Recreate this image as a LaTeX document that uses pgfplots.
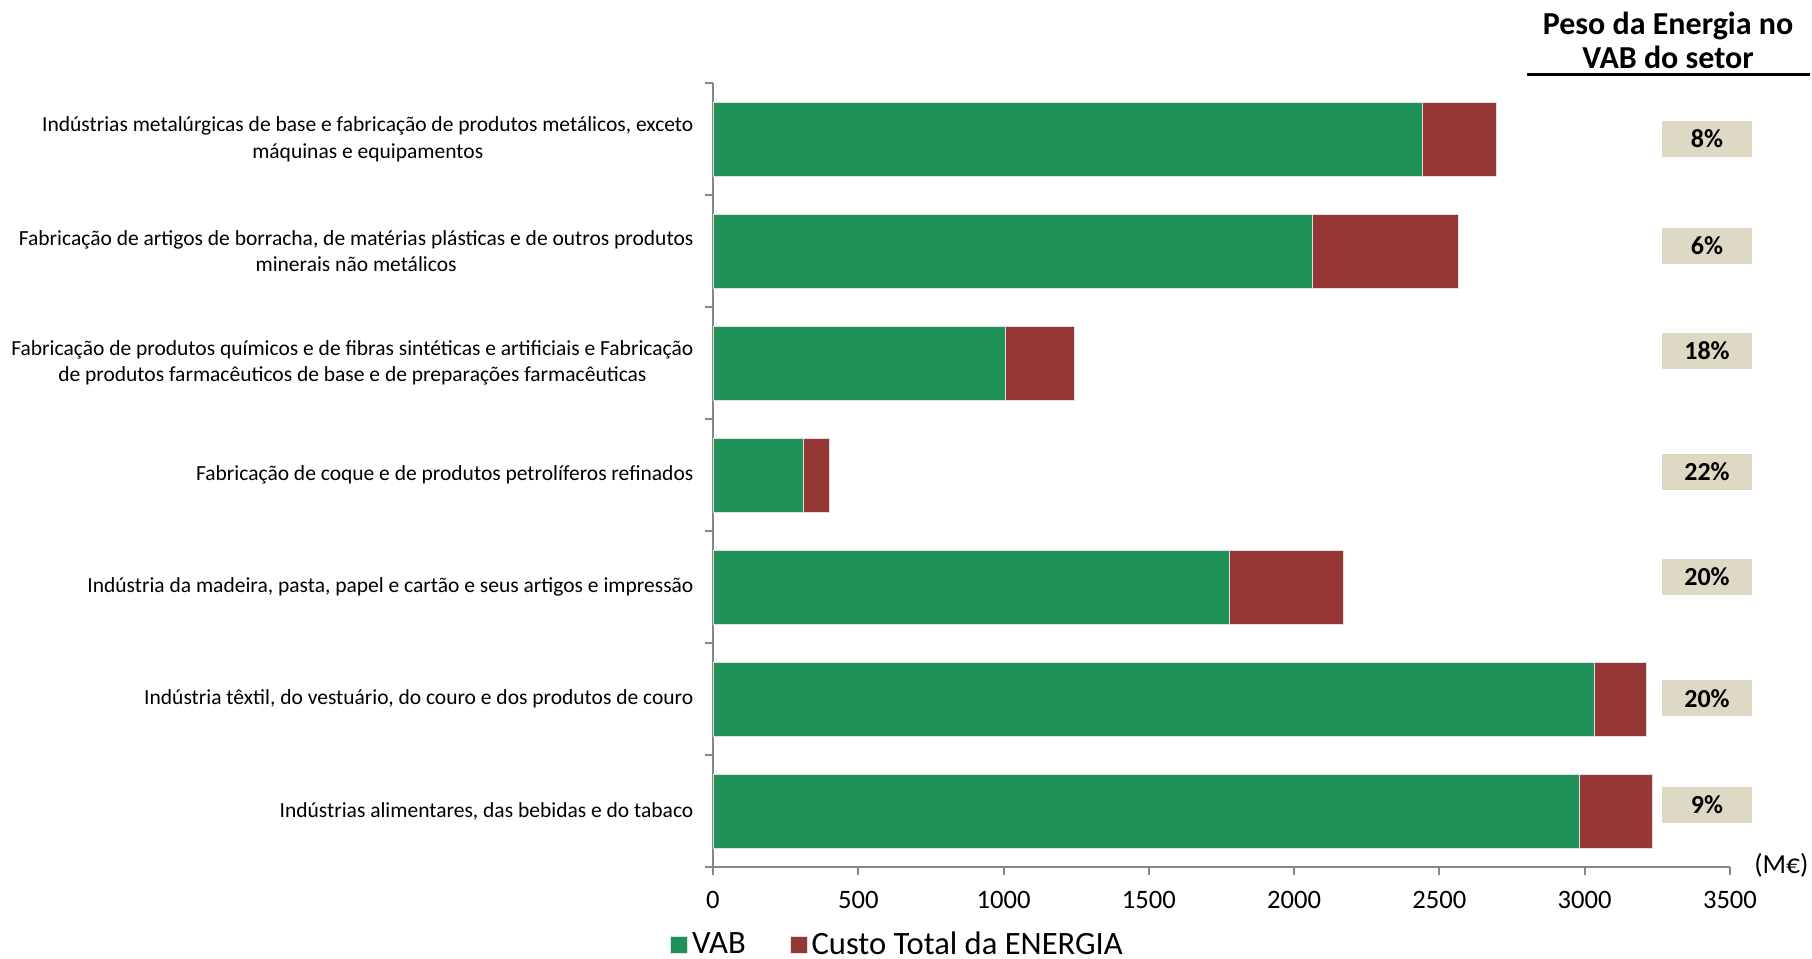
\documentclass[border=0pt]{standalone}
\usepackage{pgfplots}
\pgfplotsset{compat=1.18}
\usepackage{fontspec}
\setmainfont{Carlito}
\definecolor{vab}{RGB}{33,145,90}
\definecolor{ener}{RGB}{149,55,53}
\definecolor{pbox}{RGB}{221,217,196}
\definecolor{axgray}{RGB}{134,134,134}
\definecolor{barline}{RGB}{222,222,222}
\begin{document}
\begin{tikzpicture}
\useasboundingbox (-356.5pt,-46pt) rectangle (549.5pt,433.5pt);
\begin{axis}[
  at={(0pt,0pt)}, anchor=south west,
  scale only axis, width=508.5pt, height=392pt,
  xbar stacked, bar width=0.66,
  xmin=0, xmax=3500, ymin=-0.5, ymax=6.5,
  clip=false,
  axis lines=left,
  axis line style={-, axgray, line width=1pt},
  tick align=outside,
  major tick length=4pt, minor tick length=4pt,
  xtick={0,500,...,3500},
  x tick style={axgray, line width=1pt},
  ytick={0,...,6},
  major y tick style={draw=none},
  minor ytick={-0.5,0.5,...,6.5},
  minor y tick style={axgray, line width=1pt},
  /pgf/number format/assume math mode=true,
  /pgf/number format/1000 sep={},
  xticklabel style={font=\fontsize{13.3}{16}\selectfont, yshift=-4.6pt},
  yticklabel style={font=\fontsize{10.75}{13.3}\selectfont, align=center, xshift=-2.3pt},
  yticklabels={
    {Indústrias alimentares, das bebidas e do tabaco},
    {Indústria têxtil, do vestuário, do couro e dos produtos de couro},
    {Indústria da madeira, pasta, papel e cartão e seus artigos e impressão},
    {Fabricação de coque e de produtos petrolíferos refinados},
    {Fabricação de produtos químicos e de fibras sintéticas e artificiais e Fabricação\\de produtos farmacêuticos de base e de preparações farmacêuticas},
    {Fabricação de artigos de borracha, de matérias plásticas e de outros produtos\\minerais não metálicos},
    {Indústrias metalúrgicas de base e fabricação de produtos metálicos, exceto\\máquinas e equipamentos}
  },
  legend columns=2,
  legend style={draw=none, fill=none, at={(0,0)}, anchor=west,
    xshift=-21.5pt, yshift=-38.8pt, inner sep=0pt,
    font=\fontsize{16.3}{19}\selectfont,
    /tikz/every even column/.append style={column sep=20pt}},
  legend image code/.code={\fill[#1] (0pt,-4.25pt) rectangle (8.5pt,4.25pt);},
]
\addplot[fill=vab, draw=barline, line width=0.4pt] coordinates {
  (2981,0) (3035,1) (1778,2) (310,3) (1006,4) (2062,5) (2443,6)};
\addlegendentry{VAB}
\addplot[fill=ener, draw=barline, line width=0.4pt] coordinates {
  (252,0) (176,1) (390,2) (92,3) (239,4) (504,5) (252,6)};
\addlegendentry{Custo Total da ENERGIA}

\tikzset{pct/.style={fill=pbox, minimum width=45pt, minimum height=18pt, inner sep=0pt,
  font=\bfseries\fontsize{13}{15}\selectfont}}
\node[pct] at (axis cs:3421,6.000) {8\%};
\node[pct] at (axis cs:3421,5.046) {6\%};
\node[pct] at (axis cs:3421,4.108) {18\%};
\node[pct] at (axis cs:3421,3.026) {22\%};
\node[pct] at (axis cs:3421,2.088) {20\%};
\node[pct] at (axis cs:3421,1.005) {20\%};
\node[pct] at (axis cs:3421,0.057) {9\%};
\node[anchor=west, xshift=8.6pt, yshift=0.8pt, font=\fontsize{13.75}{16}\selectfont] at (rel axis cs:1,0) {(M€)};
\end{axis}
\node[align=center, font=\bfseries\fontsize{16}{17}\selectfont] at (477.5pt,413.5pt) {Peso da Energia no\\VAB do setor};
\draw[line width=1.5pt] (407pt,396pt) -- (548.5pt,396pt);
\end{tikzpicture}
\end{document}
